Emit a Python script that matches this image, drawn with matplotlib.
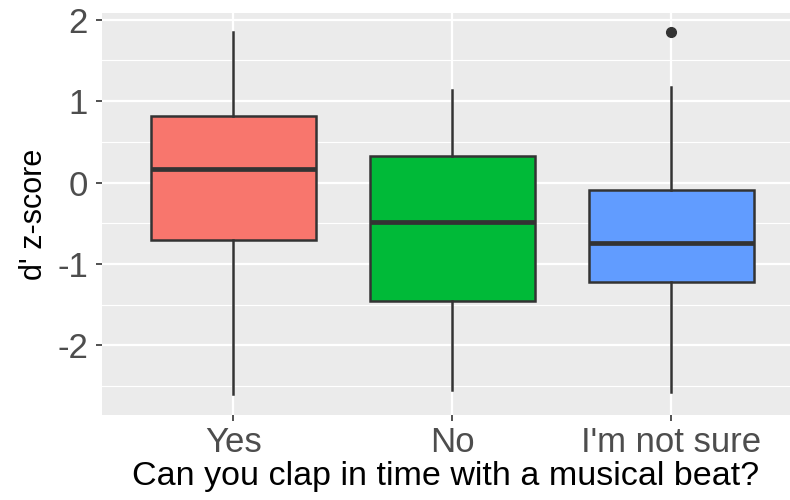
import matplotlib
matplotlib.use("Agg")
import matplotlib.pyplot as plt
from matplotlib.ticker import MultipleLocator

plt.rcParams['font.family'] = ['Liberation Sans', 'DejaVu Sans']
plt.rcParams['axes.unicode_minus'] = False

categories = ["Yes", "No", "I'm not sure"]
whislo = [-2.60, -2.55, -2.57]
q1 = [-0.70, -1.45, -1.22]
med = [0.17, -0.48, -0.74]
q3 = [0.82, 0.33, -0.09]
whishi = [1.85, 1.14, 1.17]
fliers = [[], [], [1.85]]
colors = ["#F8766D", "#00BA38", "#619CFF"]

fig = plt.figure(figsize=(7.9, 5.0), dpi=100)
ax = fig.add_axes([102/790, 1 - 415/500, 1 - 102/790, (415 - 13)/500])
ax.set_facecolor("#EBEBEB")

stats = []
for i in range(len(categories)):
    stats.append(dict(whislo=whislo[i], q1=q1[i], med=med[i], q3=q3[i],
                      whishi=whishi[i], fliers=fliers[i], label=categories[i]))

pos = list(range(1, len(categories) + 1))
bp = ax.bxp(stats, positions=pos, widths=0.75, patch_artist=True, showcaps=False,
            boxprops=dict(edgecolor="#333333", linewidth=1.8),
            whiskerprops=dict(color="#333333", linewidth=1.8),
            medianprops=dict(color="#333333", linewidth=3.4, solid_capstyle="butt"),
            flierprops=dict(marker="o", markerfacecolor="#333333", markeredgecolor="#333333",
                            markersize=7))
for patch, c in zip(bp["boxes"], colors):
    patch.set_facecolor(c)

ax.set_xlim(0.4, 0.4 + 688/219)
ax.set_ylim(-2.853, 2.08)
ax.yaxis.set_major_locator(MultipleLocator(1))
ax.yaxis.set_minor_locator(MultipleLocator(0.5))
ax.set_xticks(pos)
ax.set_xticklabels(categories)
ax.grid(which="major", color="white", linewidth=1.6, zorder=0)
ax.grid(which="minor", axis="y", color="white", linewidth=0.8, zorder=0)
ax.set_axisbelow(True)
for s in ax.spines.values():
    s.set_visible(False)
ax.tick_params(axis="both", which="major", length=4, width=1.2, color="#333333",
               labelcolor="#4D4D4D", labelsize=25, pad=4)
ax.tick_params(axis="y", which="major", pad=6)
ax.tick_params(axis="both", which="minor", length=0)
ax.set_xlabel("Can you clap in time with a musical beat?", fontsize=24.5, color="black", labelpad=1)
ax.set_ylabel("d' z-score", fontsize=22, color="black", labelpad=6)

fig.savefig("out.png", dpi=100)
